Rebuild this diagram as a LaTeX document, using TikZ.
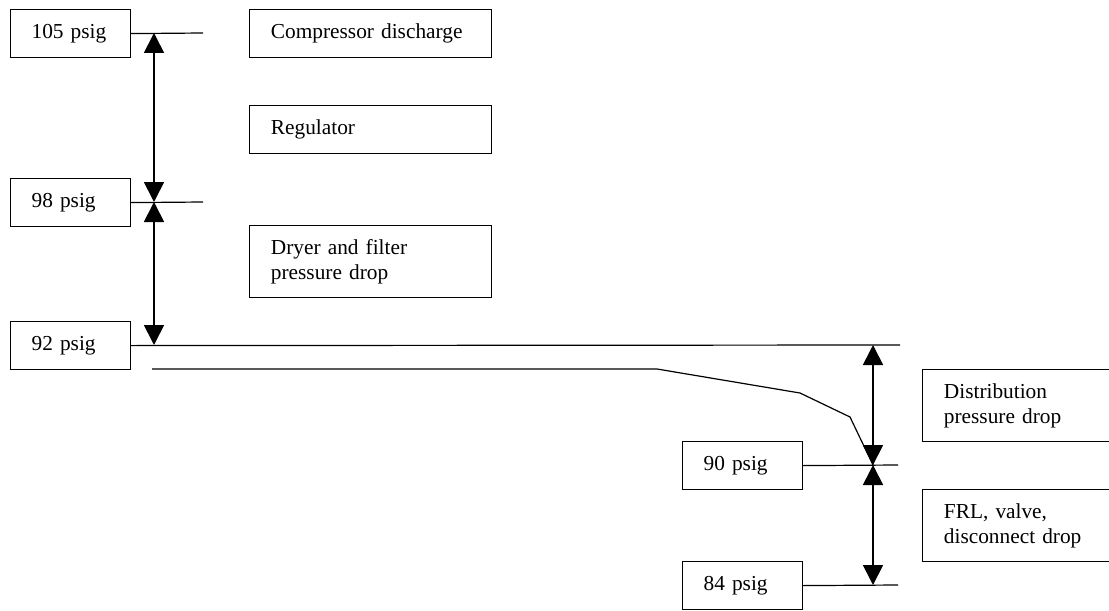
\documentclass[tikz,border=0pt]{standalone}
\usepackage{fontspec}
\setmainfont{Liberation Serif}
\usetikzlibrary{arrows.meta,positioning}

\tikzset{
  lvlbox/.style={draw, line width=0.9pt, anchor=north west, minimum width=90pt,
    minimum height=36pt, inner xsep=15.75pt, text width=58.5pt, align=left},
  descbox/.style={draw, line width=0.9pt, anchor=north west, minimum width=181.5pt,
    minimum height=36pt, inner xsep=16pt, text width=149.5pt, align=left},
  level/.style={line width=0.9pt},
  dimarrow/.style={line width=1.3pt, {Triangle[width=15pt,length=15pt]}-{Triangle[width=15pt,length=15pt]}}
}

\begin{document}
\begin{tikzpicture}[x=0.75pt, y=-0.75pt, font=\fontsize{16}{18.5}\selectfont]
    \useasboundingbox (0,0) rectangle (1109,610);

    % pressure levels
    \node[lvlbox] (b105) at (10,9) {105 psig};
    \node[lvlbox] (b98) at (10,178) {98 psig};
    \node[lvlbox] (b92) at (10,321) {92 psig};
    \node[lvlbox] (b90) at (682,441) {90 psig};
    \node[lvlbox] (b84) at (682,561) {84 psig};

    % what makes the drop
    \node[descbox] (comp) at (249,9) {Compressor discharge};
    \node[descbox] (reg) at (249,105) {Regulator};
    \node[descbox, minimum height=54pt] (dry) at (249,225) {Dryer and filter\\pressure drop};
    \node[descbox, minimum height=54pt] (dist) at (922,369) {Distribution\\pressure drop};
    \node[descbox, minimum height=54pt] (frl) at (922,489) {FRL, valve,\\disconnect drop};

    \coordinate (p105) at (154,33);
    \coordinate (p98) at (154,202);
    \coordinate (p92) at (154,345);
    \coordinate (q92) at (873,345);
    \coordinate (p90) at (873,465);
    \coordinate (p84) at (873,585);

    \coordinate (e105) at (203,33);
    \coordinate (e98) at (203,202);
    \coordinate (e92) at (900,345);
    \coordinate (e90) at (898,465);
    \coordinate (e84) at (898,585);
    \coordinate (c0) at (152,369);

    \draw[level] (b105.east) -- (e105);
    \draw[level] (b98.east) -- (e98);
    \draw[level] (b92.east) -- (e92);
    \draw[level] (b90.east) -- (e90);
    \draw[level] (b84.east) -- (e84);

    % pipe pressure falling along the line
    \draw[level] (c0) -- (657,369) -- (800,393) -- (850,417) -- (p90);

    \draw[dimarrow] (p105) -- (p98);
    \draw[dimarrow] (p98) -- (p92);
    \draw[dimarrow] (q92) -- (p90);
    \draw[dimarrow] (p90) -- (p84);
\end{tikzpicture}
\end{document}
